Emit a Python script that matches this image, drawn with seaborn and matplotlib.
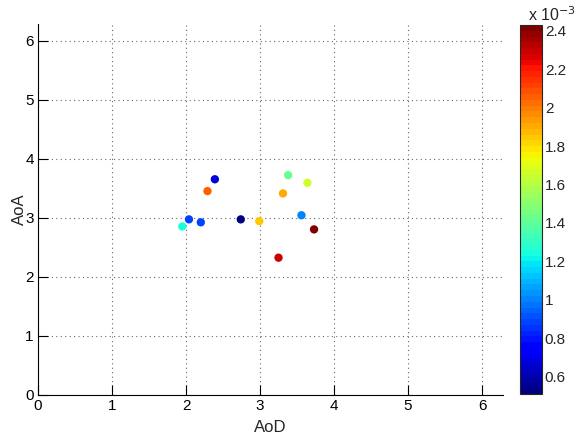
import numpy as np
import pandas as pd
import matplotlib
matplotlib.use("Agg")
import matplotlib.pyplot as plt
import seaborn as sns

# Angle of departure / angle of arrival pairs (rad) and their path power
aod = [2.39, 2.29, 2.04, 1.95, 2.20, 2.74, 2.99, 3.25, 3.38, 3.31, 3.64, 3.56, 3.73]
aoa = [3.65, 3.45, 2.97, 2.85, 2.92, 2.97, 2.94, 2.32, 3.72, 3.41, 3.59, 3.04, 2.80]
power = [0.68e-3, 2.05e-3, 0.89e-3, 1.23e-3, 0.87e-3, 0.51e-3, 1.84e-3,
         2.30e-3, 1.43e-3, 1.90e-3, 1.66e-3, 0.99e-3, 2.43e-3]

x_ticks = [0, 1, 2, 3, 4, 5, 6]
y_ticks = [0, 1, 2, 3, 4, 5, 6]
cbar_ticks = [0.6e-3, 0.8e-3, 1.0e-3, 1.2e-3, 1.4e-3, 1.6e-3, 1.8e-3, 2.0e-3, 2.2e-3, 2.4e-3]
cbar_labels = ["0.6", "0.8", "1", "1.2", "1.4", "1.6", "1.8", "2", "2.2", "2.4"]

df = pd.DataFrame({"AoD": aod, "AoA": aoa, "power": power})

sns.set_style("white")
plt.rcParams["font.family"] = ["Liberation Sans", "DejaVu Sans"]

W, H = 581, 441
fig = plt.figure(figsize=(W / 100, H / 100), dpi=100)
ax = fig.add_axes([38 / W, 1 - 394.5 / H, (503 - 38) / W, (394.5 - 24) / H])
cax = fig.add_axes([520 / W, 1 - 394 / H, (542 - 520) / W, (394 - 25) / H])

cmap = plt.get_cmap("jet", 64)
vmin, vmax = min(power), max(power)
norm = matplotlib.colors.Normalize(vmin=vmin, vmax=vmax)

sns.scatterplot(data=df, x="AoD", y="AoA", hue="power", palette=cmap,
                hue_norm=norm, s=36, edgecolor="none", legend=False, ax=ax,
                zorder=3)

ax.set_xlim(0, 2 * np.pi)
ax.set_ylim(0, 2 * np.pi)
ax.set_xticks(x_ticks)
ax.set_yticks(y_ticks)
ax.grid(True, linestyle=(0, (1, 3)), color="#666666", linewidth=0.8)
for side in ("top", "right"):
    ax.spines[side].set_visible(False)
for side in ("left", "bottom"):
    ax.spines[side].set_color("black")
    ax.spines[side].set_linewidth(0.8)
ax.tick_params(direction="in", length=7, width=0.8, labelsize=11, colors="black",
               left=True, bottom=True, pad=3)
ax.set_xlabel("AoD", fontsize=12, labelpad=5)
ax.set_ylabel("AoA", fontsize=12, labelpad=-1)

sm = matplotlib.cm.ScalarMappable(norm=norm, cmap=cmap)
cb = fig.colorbar(sm, cax=cax)
cb.set_ticks(cbar_ticks)
cb.set_ticklabels(cbar_labels)
cb.outline.set_linewidth(0.8)
cax.tick_params(direction="in", length=3, width=0.8, labelsize=11, pad=2,
                left=True, right=True)
fig.text(528 / W, 1 - 15 / H, r"x 10$^{-3}$", fontsize=11.5, ha="left", va="center")

fig.savefig("out.png", dpi=100, facecolor="white")
